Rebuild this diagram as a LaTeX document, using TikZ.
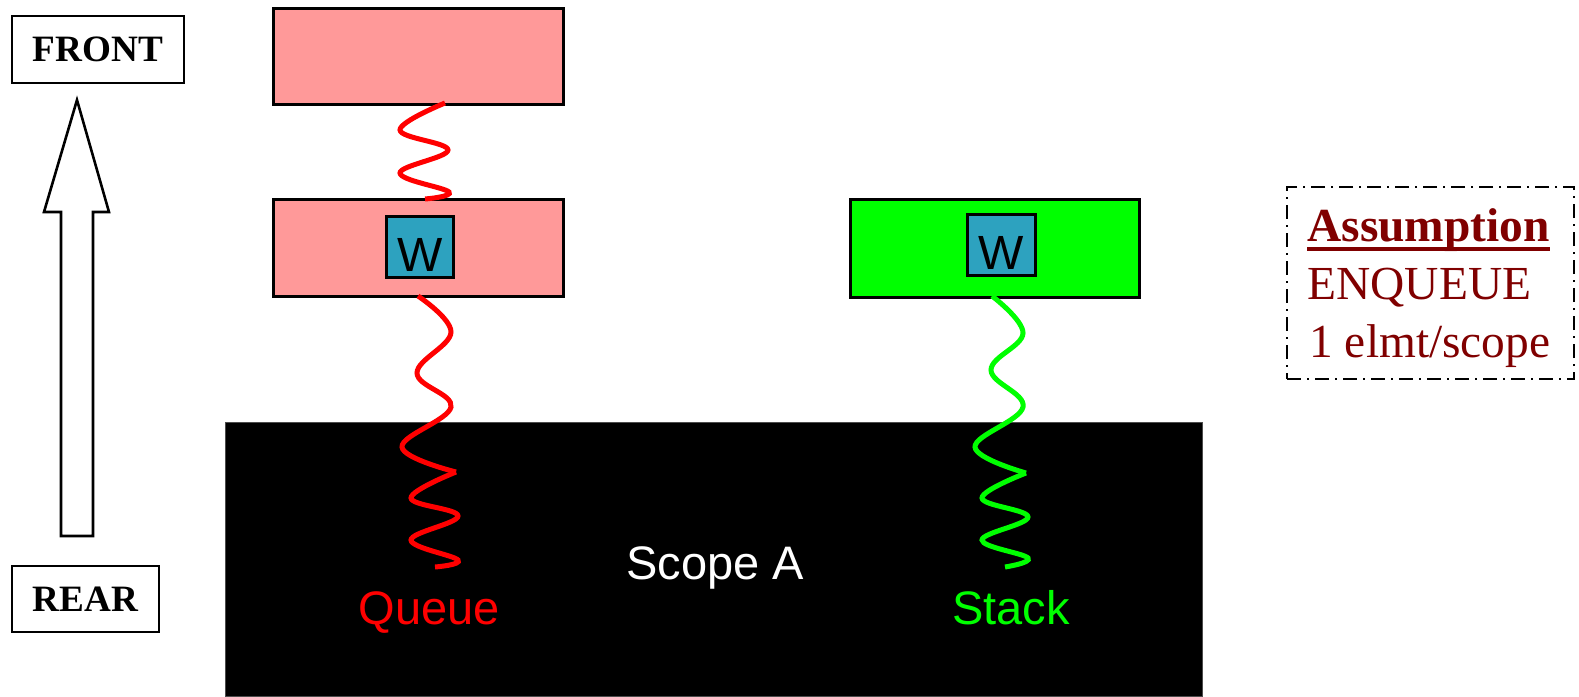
\documentclass[tikz,border=0pt]{standalone}
\usepackage{fontspec}
\setmainfont{Liberation Serif}
\setsansfont{Liberation Sans}
\definecolor{pinkbox}{HTML}{FF9999}
\definecolor{wblue}{HTML}{2DA2BF}
\definecolor{asmred}{HTML}{800000}
\definecolor{lime}{HTML}{00FF00}
\begin{document}
\begin{tikzpicture}[x=0.5pt,y=-0.5pt,
  box/.style={draw=black, line width=1.5pt, rectangle, inner sep=0pt},
  lbl/.style={draw=black, line width=1.4pt, rectangle, inner sep=0pt,
    font=\fontsize{18.6}{20}\selectfont\bfseries},
  wbox/.style={draw=black, line width=1.5pt, fill=wblue, rectangle, inner sep=0pt,
    minimum width=33.5pt, minimum height=30.5pt},
  wtext/.style={font=\sffamily\fontsize{24}{25}\selectfont, anchor=base, inner sep=0pt},
  sans/.style={font=\sffamily\fontsize{23.5}{25}\selectfont, anchor=base, inner sep=0pt},
  note/.style={text=asmred, font=\fontsize{23.7}{29}\selectfont, anchor=base west, inner sep=0pt},
  wave/.style={line width=2.5pt}]
\useasboundingbox (0,0) rectangle (1579,696);

% scope area
\node[rectangle, fill=black, draw=black!70, line width=0.4pt, inner sep=0pt,
  minimum width=488.5pt, minimum height=137pt] (scope) at (713.5,559) {};
\node[sans, text=white] (scopelbl) at (715,579) {Scope A};
\node[sans, text=red] (queuelbl) at (429,624) {Queue};
\node[sans, text=lime] (stacklbl) at (1011,624) {Stack};

% front / rear direction
\node[lbl, minimum width=86pt, minimum height=33.5pt] (front) at (98,49.5) {FRONT};
\node[lbl, minimum width=73.5pt, minimum height=33pt] (rear) at (85.5,599) {REAR};
\draw[line width=1.3pt, fill=white]
  (77,100) -- (109,212) -- (93,212) -- (93,536) -- (61,536) -- (61,212) -- (44,212) -- cycle;

% queue elements
\node[box, fill=pinkbox, minimum width=145pt, minimum height=48pt] (qtop) at (418,56) {};
\node[box, fill=pinkbox, minimum width=145pt, minimum height=48.5pt] (qmid) at (418,247.5) {};
\node[wbox] (qw) at (419.5,246.5) {};
\node[wtext] (qwt) at (420,271) {W};

% stack element
\node[box, fill=lime, minimum width=144.5pt, minimum height=49pt] (smid) at (994.5,248) {};
\node[wbox, minimum width=34pt] (sw) at (1001,244.5) {};
\node[wtext] (swt) at (1001.5,269) {W};

% queue links
\draw[wave, red] plot[smooth, tension=0.65] coordinates
  {(445,103) (400,130) (448,150) (400,173) (449,192) (425,199)};
\draw[wave, red] plot[smooth, tension=0.65] coordinates
  {(418,296) (451,332) (417,373) (451,407) (402,447) (456,472)};
\draw[wave, red] plot[smooth, tension=0.65] coordinates
  {(456,472) (411,498) (458,516) (411,540) (458,560) (435,567)};

% stack links
\draw[wave, lime] plot[smooth, tension=0.65] coordinates
  {(992,296) (1023,333) (991,370) (1023,407) (975,447) (1026,473)};
\draw[wave, lime] plot[smooth, tension=0.65] coordinates
  {(1026,473) (982,498) (1028,517) (982,540) (1028,558) (1005,567)};

% assumption note
\node[rectangle, draw=black, line width=1.2pt, inner sep=0pt,
  dash pattern=on 7pt off 3pt on 1pt off 3pt,
  minimum width=143.5pt, minimum height=96pt] (notebox) at (1430.5,283) {};
\node[note, font=\fontsize{23.7}{29}\selectfont\bfseries] (n1) at (1307,241) {Assumption};
\draw[asmred, line width=1.6pt] ([yshift=-4pt]n1.base west) -- ([yshift=-4pt]n1.base east);
\node[note] (n2) at (1307,299) {ENQUEUE};
\node[note] (n3) at (1309,357) {1 elmt/scope};
\end{tikzpicture}
\end{document}
